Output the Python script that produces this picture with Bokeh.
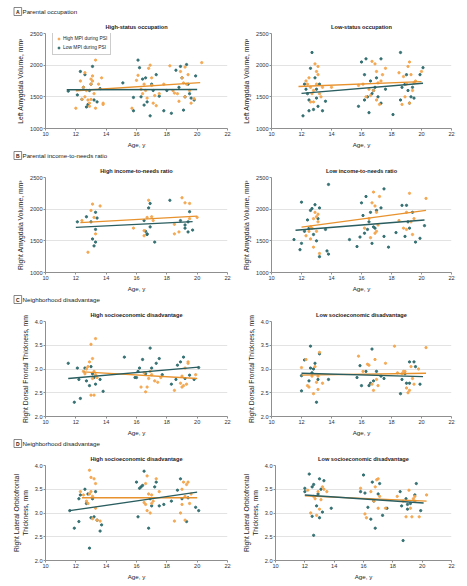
from bokeh.plotting import figure
from bokeh.layouts import column, row
from bokeh.models import (Range1d, Label, Legend, LegendItem, ColumnDataSource,
                          FixedTicker, NumeralTickFormatter)
from bokeh.embed import file_html
from bokeh.resources import INLINE

# ---------------- data ----------------
AGE_TICKS = [10, 12, 14, 16, 18, 20, 22]
VOL_TICKS = [1000, 1500, 2000, 2500]
THK_TICKS = [2.0, 2.5, 3.0, 3.5, 4.0]

SERIES_LABELS = ["High MPI during PSI", "Low MPI during PSI"]

# Panel A left: High-status occupation (Left amygdala volume)
A1_HIGH = [(12.0,1320),(12.3,1750),(12.5,1650),(12.6,1880),(12.7,1600),(12.8,1450),(12.9,1400),(13.0,1780),
           (13.0,1700),(13.1,1750),(13.2,1550),(13.3,2080),(13.3,1320),(13.5,1700),(13.7,1800),(13.8,1400),
           (13.8,1380),(12.6,1500),(12.9,1350),(13.1,1830),(12.4,1460),(13.0,1460),
           (15.7,1320),(16.0,1760),(16.1,1840),(16.3,1620),(16.5,1700),(16.6,1600),(16.8,1950),(16.9,2000),
           (17.0,1800),(17.0,1680),(17.2,1520),(17.3,1360),(17.5,1550),(16.7,1480),(16.4,1550),(17.1,1400),
           (17.8,1700),(18.2,1990),(18.4,1600),(18.5,1560),(18.7,1550),(18.9,1900),(19.0,1800),(19.1,1720),
           (19.2,1970),(19.3,1700),(19.4,1850),(19.5,1600),(19.6,1400),(19.8,1470),(20.3,2040),(19.2,1500),
           (18.8,1430)]
A1_LOW = [(11.5,1590),(12.1,1530),(12.3,1900),(12.4,1460),(12.6,1850),(12.7,1340),(12.9,1600),(13.1,1980),
          (13.2,1450),(13.4,1420),(13.6,1630),(12.8,1380),(12.5,1650),(13.0,1700),
          (15.1,1720),(15.8,1490),(15.8,1280),(16.1,2080),(16.2,1960),(16.4,1780),(16.5,1370),(16.7,1420),
          (16.9,1200),(17.0,1700),(17.1,1600),(17.3,1850),(17.5,1510),(17.8,1280),(16.6,1800),(16.3,1500),
          (18.3,1240),(18.0,1600),(18.6,1920),(18.9,1980),(19.0,1800),(19.1,1290),(19.2,1500),(19.3,2010),
          (19.5,1550),(19.6,1480),(19.8,1450),(19.9,1830),(18.8,1650),(19.4,1700)]
A1_FIT_HIGH = [(12.0,1595),(20.2,1724)]
A1_FIT_LOW = [(11.4,1611),(20.0,1616)]

# Panel A right: Low-status occupation
A2_HIGH = [(12.3,1750),(12.5,1800),(12.6,1650),(12.7,1550),(12.8,1420),(12.9,2020),(13.0,1900),(13.1,1980),
           (13.0,1700),(13.2,1550),(13.3,1500),(12.4,1700),(12.6,1420),(13.1,1850),(13.4,1650),(14.0,1650),
           (12.8,1600),(15.8,1680),(16.1,1700),(16.3,1500),(16.5,1620),(16.7,2060),(16.9,2020),(17.0,1900),
           (16.8,1600),(17.1,1720),(17.2,1380),(17.4,1850),(17.6,1950),(17.0,1450),(16.6,1520),(17.3,1750),
           (18.5,1880),(18.7,1380),(18.9,1500),(19.0,1700),(19.1,1980),(19.2,2050),(19.3,1850),(19.4,1600),
           (19.5,1720),(19.6,1750),(20.0,1900),(18.8,1820),(19.2,1400)]
A2_LOW = [(12.1,1200),(12.2,1700),(12.4,1550),(12.5,1450),(12.6,1950),(12.7,2200),(12.8,1300),(12.9,1800),
          (13.0,1480),(13.1,1350),(13.2,1700),(13.4,1280),(13.6,1430),(12.5,1280),(12.3,1620),(13.0,1620),
          (15.8,1350),(16.0,2050),(16.2,1450),(16.3,2100),(16.4,1500),(16.5,1250),(16.6,1750),(16.7,1550),
          (16.8,1600),(16.9,1650),(17.0,1800),(17.1,1500),(17.3,2100),(17.3,1400),(17.6,1620),(18.1,1220),
          (16.2,1850),(18.6,2200),(18.7,1650),(18.9,1700),(19.0,1850),(19.1,1600),(19.2,1400),(19.3,1500),
          (19.4,1650),(19.5,1480),(19.9,1850),(20.1,1960),(18.6,1450)]
A2_FIT_HIGH = [(11.8,1663),(20.0,1740)]
A2_FIT_LOW = [(12.0,1554),(20.1,1714)]

# Panel B left: High income-to-needs ratio (Right amygdala volume)
B1_HIGH = [(12.4,1820),(12.8,1320),(13.0,1980),(13.1,2080),(13.2,1870),(13.3,1610),(13.6,2050),(15.8,1700),
           (16.5,1660),(16.5,1580),(16.7,1870),(16.8,2140),(17.0,1880),(17.1,1820),(18.5,1760),(18.5,1610),
           (18.8,1640),(19.0,2180),(19.2,2100),(19.5,2090),(19.5,1850),(20.0,1870)]
B1_LOW = [(12.1,1800),(12.7,1880),(13.0,1800),(13.1,1530),(13.2,1420),(13.3,1950),(13.3,1480),(13.3,1680),
          (13.4,1860),(16.5,1820),(16.6,1650),(16.7,1610),(16.8,2020),(16.9,2090),(16.9,1720),(17.2,1480),
          (18.2,2140),(18.9,1820),(19.2,1700),(19.2,1750),(19.4,1640),(19.5,1960),(19.7,1670),(19.4,1800),
          (16.7,1600)]
B1_FIT_HIGH = [(12.3,1788),(20.0,1890)]
B1_FIT_LOW = [(12.0,1712),(19.7,1804)]

# Panel B right: Low income-to-needs ratio
B2_HIGH = [(12.3,1580),(12.5,1650),(12.6,1530),(12.7,1700),(12.8,1400),(12.9,1950),(13.0,1880),(13.1,1800),
           (13.0,1650),(13.2,1300),(13.1,1920),(12.8,1850),(12.6,1720),(16.2,1700),(16.5,1850),(16.7,2100),
           (16.8,2270),(16.9,2050),(17.0,1950),(17.0,1650),(17.2,2200),(16.9,1620),(16.6,1550),(17.1,1750),
           (18.5,1820),(18.8,1700),(19.0,1950),(19.2,2250),(19.3,1800),(19.4,1600),(19.5,1850),(20.3,2170),
           (19.0,1680)]
B2_LOW = [(11.5,1520),(11.9,1360),(12.0,2110),(12.0,1460),(12.2,1650),(12.4,1830),(12.5,1700),(12.6,1980),
          (12.7,2010),(12.8,1600),(12.9,2070),(13.0,1500),(13.1,1850),(13.2,1250),(13.2,2020),(13.6,1680),
          (13.7,1340),(13.8,1290),(13.8,2390),(15.2,1520),(15.7,1410),(15.9,1560),(16.0,2100),(16.1,1900),
          (16.3,2200),(16.4,1680),(16.5,1800),(16.6,1950),(16.7,1460),(16.8,1720),(16.9,1700),(17.0,1980),
          (17.3,2020),(17.5,2320),(17.5,1570),(17.8,1400),(18.3,1630),(18.7,2060),(18.9,1570),(19.0,2060),
          (19.1,1800),(19.2,1700),(19.4,1950),(19.6,1480),(19.9,1540),(20.2,1740),(16.2,1620)]
B2_FIT_HIGH = [(12.0,1717),(20.3,1981)]
B2_FIT_LOW = [(11.6,1666),(20.2,1829)]

# Panel C left: High socioeconomic disadvantage (Right dorsal frontal thickness)
C1_HIGH = [(12.5,2.95),(12.6,2.90),(12.7,3.00),(12.8,3.05),(12.9,3.15),(13.0,3.52),(13.1,3.22),(13.0,2.45),
           (13.2,2.45),(13.2,2.95),(13.3,3.64),(13.3,2.88),(13.4,2.82),(13.1,2.80),(16.3,2.62),(16.5,2.92),
           (16.6,2.52),(16.7,2.62),(16.8,2.80),(16.9,2.95),(17.0,2.88),(17.2,2.75),(17.4,2.72),(17.6,2.82),
           (18.5,2.55),(18.9,2.70),(19.0,2.85),(19.1,2.65),(19.2,3.02),(19.3,2.68),(19.4,3.12),(19.4,3.15),
           (19.9,2.88),(19.0,2.62)]
C1_LOW = [(11.5,3.12),(11.9,2.30),(12.1,3.02),(12.3,2.38),(12.2,2.78),(12.6,3.02),(12.7,2.75),(12.9,2.65),
          (13.0,3.05),(13.1,2.90),(13.2,2.82),(13.3,2.68),(13.6,2.78),(13.8,2.53),(15.2,3.25),(15.9,2.82),
          (16.0,2.82),(16.1,2.95),(16.2,3.02),(16.4,3.20),(16.6,2.90),(16.9,3.44),(17.0,3.02),(17.3,3.12),
          (17.5,3.22),(17.7,2.88),(18.3,2.68),(18.6,2.78),(18.7,3.08),(18.9,3.15),(19.1,3.25),(19.2,2.80),
          (19.5,2.87),(19.8,2.78),(20.1,3.03)]
C1_FIT_HIGH = [(12.5,2.94),(20.0,2.80)]
C1_FIT_LOW = [(11.5,2.80),(20.1,3.04)]

# Panel C right: Low socioeconomic disadvantage
C2_HIGH = [(12.0,3.03),(12.3,3.20),(12.4,2.65),(12.5,2.62),(12.7,2.85),(12.8,2.48),(12.9,3.05),(13.0,2.72),
           (13.1,2.57),(13.1,2.85),(13.2,3.35),(13.4,2.70),(15.8,3.27),(16.1,2.95),(16.4,3.10),(16.5,3.08),
           (16.7,2.68),(16.8,2.55),(16.9,3.20),(17.0,2.78),(17.1,2.65),(17.6,3.12),(18.2,3.48),(18.4,2.92),
           (18.7,2.90),(18.9,2.95),(19.0,2.60),(19.1,2.50),(19.2,2.55),(19.3,3.05),(19.4,2.80),(19.5,2.68),
           (19.8,3.00),(20.3,3.45),(18.8,2.95)]
C2_LOW = [(12.0,2.86),(12.0,2.54),(12.2,3.19),(12.5,2.75),(12.6,3.02),(12.6,3.48),(12.7,2.92),(12.8,3.00),
          (12.9,3.12),(13.0,2.30),(13.1,2.78),(13.2,3.32),(13.8,2.78),(15.7,2.82),(15.9,3.07),(16.0,2.65),
          (16.3,2.95),(16.5,2.65),(16.6,2.70),(16.7,3.42),(16.8,2.75),(17.0,2.95),(17.3,2.85),(17.5,2.80),
          (18.6,2.48),(18.7,2.78),(18.9,2.90),(19.0,2.70),(19.2,3.15),(19.5,3.15),(19.6,3.05),(19.9,2.68),
          (19.2,2.70)]
C2_FIT_HIGH = [(12.0,2.87),(20.3,2.91)]
C2_FIT_LOW = [(12.0,2.91),(20.1,2.84)]

# Panel D left: High socioeconomic disadvantage (Right lateral orbitofrontal thickness)
D1_HIGH = [(12.3,3.45),(12.5,3.38),(12.7,3.25),(12.8,3.20),(12.9,3.90),(13.0,3.75),(13.0,3.45),(13.1,3.35),
           (13.2,3.72),(13.3,3.62),(13.3,3.10),(13.4,2.85),(13.6,2.83),(13.1,2.88),(12.9,3.40),(16.5,3.22),
           (16.6,3.62),(16.7,3.78),(16.7,3.05),(16.8,3.40),(16.9,3.00),(17.0,3.38),(17.1,3.25),(17.3,3.72),
           (17.5,3.45),(16.6,3.18),(17.0,3.20),(18.5,2.83),(18.9,3.00),(19.0,3.50),(19.1,3.65),(19.2,2.85),
           (19.3,3.60),(19.4,3.65),(19.5,3.20),(19.6,3.40),(19.0,3.18),(19.2,3.35)]
D1_LOW = [(11.6,3.05),(11.9,2.68),(12.2,3.30),(12.2,2.82),(12.3,3.38),(12.6,3.50),(12.7,3.20),(12.8,3.40),
          (12.9,2.26),(13.0,2.90),(13.1,3.30),(13.2,2.92),(13.3,3.45),(13.4,2.85),(13.6,2.62),(13.7,2.75),
          (16.0,3.65),(16.1,2.92),(16.3,3.55),(16.4,3.58),(16.5,3.88),(16.8,2.68),(16.9,3.30),(17.0,3.15),
          (17.2,3.55),(17.3,3.65),(17.5,3.15),(17.8,3.18),(18.3,3.25),(18.7,3.48),(18.9,3.72),(19.0,3.30),
          (19.3,2.82),(19.4,3.32),(19.9,3.12),(20.1,3.05),(16.2,3.52)]
D1_FIT_HIGH = [(12.4,3.32),(20.0,3.32)]
D1_FIT_LOW = [(11.6,3.05),(20.0,3.44)]

# Panel D right: Low socioeconomic disadvantage
D2_HIGH = [(12.2,3.48),(12.4,3.00),(12.7,3.30),(12.8,2.95),(12.9,3.45),(13.0,3.08),(13.1,3.28),(13.2,3.55),
           (13.3,3.50),(13.5,3.45),(12.6,3.35),(15.8,3.52),(16.1,2.98),(16.2,2.90),(16.5,3.45),(16.7,3.25),
           (16.9,3.70),(17.0,3.72),(17.0,3.10),(17.1,3.35),(17.5,3.10),(16.8,3.55),(18.3,3.35),(18.7,3.25),
           (18.9,2.92),(19.1,3.48),(19.2,3.10),(19.3,2.92),(19.4,3.30),(19.5,3.25),(19.8,2.92),(20.3,3.38),
           (19.5,3.35)]
D2_LOW = [(12.0,3.52),(12.0,3.45),(12.3,3.82),(12.5,2.93),(12.5,3.55),(12.6,3.60),(12.6,2.53),(12.8,3.15),
          (12.9,3.40),(13.0,3.72),(13.0,2.90),(13.1,3.50),(13.2,3.02),(13.3,3.68),(13.8,3.10),(15.8,3.45),
          (16.0,3.80),(16.1,3.42),(16.3,3.12),(16.5,2.87),(16.6,3.65),(16.7,3.25),(16.8,2.68),(17.0,3.40),
          (17.1,3.62),(17.3,2.95),(17.6,3.10),(18.5,3.45),(18.6,3.15),(18.7,2.42),(18.9,3.30),(19.0,3.08),
          (19.2,3.20),(19.5,3.38),(19.6,3.62),(19.9,3.05),(19.0,3.18)]
D2_FIT_HIGH = [(12.0,3.36),(20.3,3.25)]
D2_FIT_LOW = [(12.0,3.38),(20.1,3.21)]

SECTIONS = [
    ("A", "Parental occupation", "Left Amygdala Volume, mm\u00b3", (1000, 2500), VOL_TICKS, "0",
     [("High-status occupation", A1_HIGH, A1_LOW, A1_FIT_HIGH, A1_FIT_LOW),
      ("Low-status occupation", A2_HIGH, A2_LOW, A2_FIT_HIGH, A2_FIT_LOW)]),
    ("B", "Parental income-to-needs ratio", "Right Amygdala Volume, mm\u00b3", (1000, 2500), VOL_TICKS, "0",
     [("High income-to-needs ratio", B1_HIGH, B1_LOW, B1_FIT_HIGH, B1_FIT_LOW),
      ("Low income-to-needs ratio", B2_HIGH, B2_LOW, B2_FIT_HIGH, B2_FIT_LOW)]),
    ("C", "Neighborhood disadvantage", "Right Dorsal Frontal Thickness, mm", (2.0, 4.0), THK_TICKS, "0.0",
     [("High socioeconomic disadvantage", C1_HIGH, C1_LOW, C1_FIT_HIGH, C1_FIT_LOW),
      ("Low socioeconomic disadvantage", C2_HIGH, C2_LOW, C2_FIT_HIGH, C2_FIT_LOW)]),
    ("D", "Neighborhood disadvantage", "Right Lateral Orbitofrontal\nThickness, mm", (2.0, 4.0), THK_TICKS, "0.0",
     [("High socioeconomic disadvantage", D1_HIGH, D1_LOW, D1_FIT_HIGH, D1_FIT_LOW),
      ("Low socioeconomic disadvantage", D2_HIGH, D2_LOW, D2_FIT_HIGH, D2_FIT_LOW)]),
]

# ---------------- styling ----------------
FONT = "Liberation Sans"
ORANGE = "#F3A54E"
TEAL = "#2E6B6E"
ORANGE_LINE = "#E8922E"
TEAL_LINE = "#2A5D5F"
TEXT = "#222222"
AXIS = "#8F8F8F"
GRID = "#DCDCDC"

LEFT_W, RIGHT_W = 240, 225


def src(points):
    return ColumnDataSource(dict(age=[p[0] for p in points], val=[p[1] for p in points]))


def make_header(letter, text, height):
    h = figure(width=LEFT_W + RIGHT_W, height=height, x_range=Range1d(0, LEFT_W + RIGHT_W),
               y_range=Range1d(0, height), output_backend="svg", toolbar_location=None,
               min_border=0, x_axis_type=None, y_axis_type=None)
    h.outline_line_color = None
    h.add_layout(Label(x=13.5, y=7, text=letter, text_baseline="middle", text_align="left",
                       text_font=FONT, text_font_size="5px", text_font_style="bold",
                       text_color=TEXT, border_line_color="#555555", border_line_width=0.7,
                       background_fill_color="white", padding=(2, 1)))
    h.add_layout(Label(x=22, y=7, text=text, text_baseline="middle", text_align="left",
                       text_font=FONT, text_font_size="6.2px", text_color=TEXT))
    return h


def make_panel(title, ylabel, yr, yticks, yfmt, hi, lo, fit_hi, fit_lo, left, legend):
    p = figure(width=LEFT_W if left else RIGHT_W, height=132,
               x_range=Range1d(10, 22), y_range=Range1d(*yr),
               output_backend="svg", toolbar_location=None,
               min_border_left=45 if left else 31, min_border_right=13 if left else 14,
               min_border_top=15, min_border_bottom=20)
    p.outline_line_color = None
    p.title.text = title
    p.title.align = "center"
    p.title.text_font = FONT
    p.title.text_font_size = "5.6px"
    p.title.text_font_style = "bold"
    p.title.text_color = TEXT
    p.title.standoff = 7

    p.xaxis.ticker = FixedTicker(ticks=AGE_TICKS)
    p.yaxis.ticker = FixedTicker(ticks=yticks)
    p.yaxis.formatter = NumeralTickFormatter(format=yfmt)
    p.xaxis.axis_label = "Age, y"
    p.yaxis.axis_label = ylabel
    for ax in (p.xaxis, p.yaxis):
        ax.axis_label_text_font = FONT
        ax.axis_label_text_font_style = "normal"
        ax.axis_label_text_color = TEXT
        ax.major_label_text_font = FONT
        ax.major_label_text_font_size = "5.6px"
        ax.major_label_text_color = "#333333"
        ax.major_label_standoff = 1
        ax.axis_line_color = AXIS
        ax.major_tick_line_color = AXIS
        ax.major_tick_out = 2
        ax.major_tick_in = 0
        ax.minor_tick_line_color = None
    p.xaxis.axis_label_text_font_size = "6.2px"
    p.yaxis.axis_label_text_font_size = "6.8px"
    p.xaxis.axis_label_standoff = 2
    p.yaxis.axis_label_standoff = 3
    p.xgrid.visible = False
    p.ygrid.grid_line_color = GRID
    p.ygrid.grid_line_width = 0.8

    s_hi, s_lo = src(hi), src(lo)
    r_lo = p.scatter("age", "val", source=s_lo, marker="circle", size=2.3, color=TEAL, alpha=0.95)
    r_hi = p.scatter("age", "val", source=s_hi, marker="circle", size=2.3, color=ORANGE, alpha=0.95)
    p.line("age", "val", source=src(fit_hi), color=ORANGE_LINE, line_width=1.4)
    p.line("age", "val", source=src(fit_lo), color=TEAL_LINE, line_width=1.4)

    if legend:
        lg = Legend(items=[LegendItem(label=SERIES_LABELS[0], renderers=[r_hi]),
                           LegendItem(label=SERIES_LABELS[1], renderers=[r_lo])],
                    location=(7, 73), margin=0, padding=3, spacing=2,
                    label_text_font=FONT, label_text_font_size="4.9px", label_text_color=TEXT,
                    label_height=7, glyph_height=5, glyph_width=5, label_standoff=2,
                    border_line_color="#999999", border_line_width=0.7,
                    background_fill_color="white", background_fill_alpha=1.0)
        p.add_layout(lg)
    return p


blocks = []
for k, (letter, header, ylabel, yr, yticks, yfmt, panels) in enumerate(SECTIONS):
    blocks.append(make_header(letter, header, 18 if k == 0 else 12))
    figs = []
    for i, (title, hi, lo, fh, fl) in enumerate(panels):
        figs.append(make_panel(title, ylabel, yr, yticks, yfmt, hi, lo, fh, fl,
                               left=(i == 0), legend=(letter == "A" and i == 0)))
    blocks.append(row(*figs))

layout = column(*blocks)

with open("out.html", "w") as f:
    f.write(file_html(layout, INLINE))
